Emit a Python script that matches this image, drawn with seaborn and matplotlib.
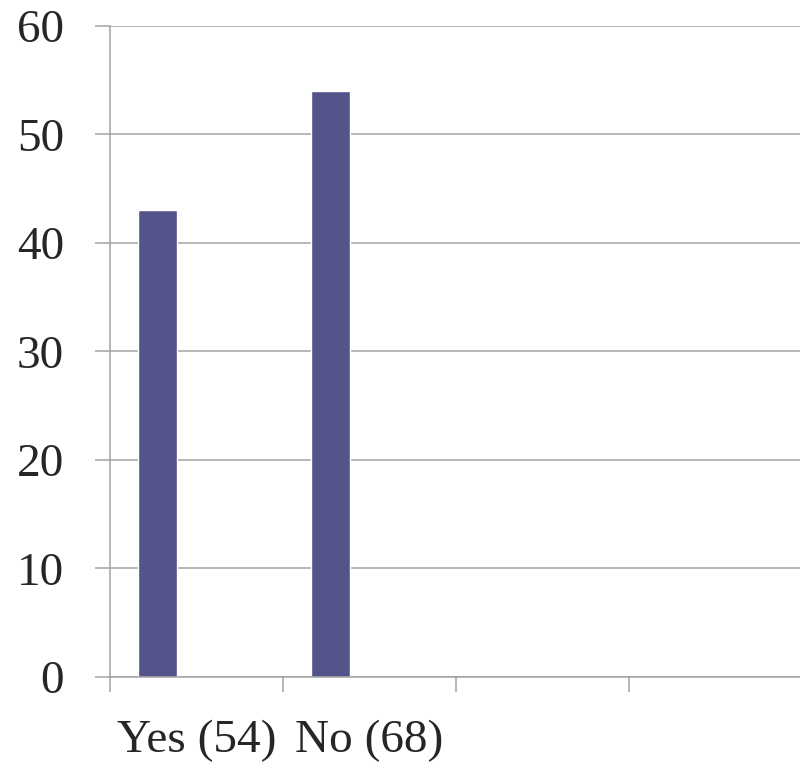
import pandas as pd
import numpy as np
import matplotlib
matplotlib.use("Agg")
from matplotlib import pyplot as plt
import seaborn as sns

# values
CATEGORIES = ["Yes (54)", "No (68)"]
SERIES = ["Series 1", "Series 2", "Series 3"]
SERIES_1 = [43, 54]
SERIES_2 = [np.nan, np.nan]
SERIES_3 = [np.nan, np.nan]
Y_TICKS = [0, 10, 20, 30, 40, 50, 60]

df = pd.DataFrame({
    "Category": CATEGORIES,
    SERIES[0]: SERIES_1,
    SERIES[1]: SERIES_2,
    SERIES[2]: SERIES_3,
})
tidy = df.melt(id_vars="Category", var_name="Series", value_name="Value")

sns.set_style("white")
plt.rcParams["font.family"] = ["Liberation Serif", "DejaVu Serif"]

fig = plt.figure(figsize=(8, 7.7), dpi=100)
ax = fig.add_axes([0.1375, 0.1208, 0.8625, 0.8455])

bar_color = "#53548A"
sns.barplot(data=tidy, x="Category", y="Value", hue="Series", hue_order=SERIES,
            palette=[bar_color] * 3, width=0.675, saturation=1, ax=ax,
            legend=False, errorbar=None)

ax.set_ylim(0, 60)
ax.set_yticks(Y_TICKS)
ax.set_xlim(-0.5, 3.49)
ax.set_xlabel("")
ax.set_ylabel("")

grid_color = "#A3A3A3"
ax.grid(True, axis="y", color=grid_color, linewidth=1.1)
ax.set_axisbelow(True)
for side in ["top", "right"]:
    ax.spines[side].set_visible(False)
for side in ["left", "bottom"]:
    ax.spines[side].set_color(grid_color)
    ax.spines[side].set_linewidth(1.1)

# category labels centered, tick marks on boundaries
ax.set_xticks([0, 1], CATEGORIES, minor=True)
ax.set_xticks([-0.5, 0.5, 1.5, 2.5], [""] * 4)
ax.tick_params(axis="x", which="major", length=11, width=1.1, color=grid_color,
               direction="out", bottom=True)
ax.tick_params(axis="x", which="minor", length=0, pad=31, labelsize=34)
ax.tick_params(axis="y", length=11, width=1.1, color=grid_color,
               direction="out", left=True, pad=22, labelsize=34)

plt.savefig("out.png", dpi=100)
